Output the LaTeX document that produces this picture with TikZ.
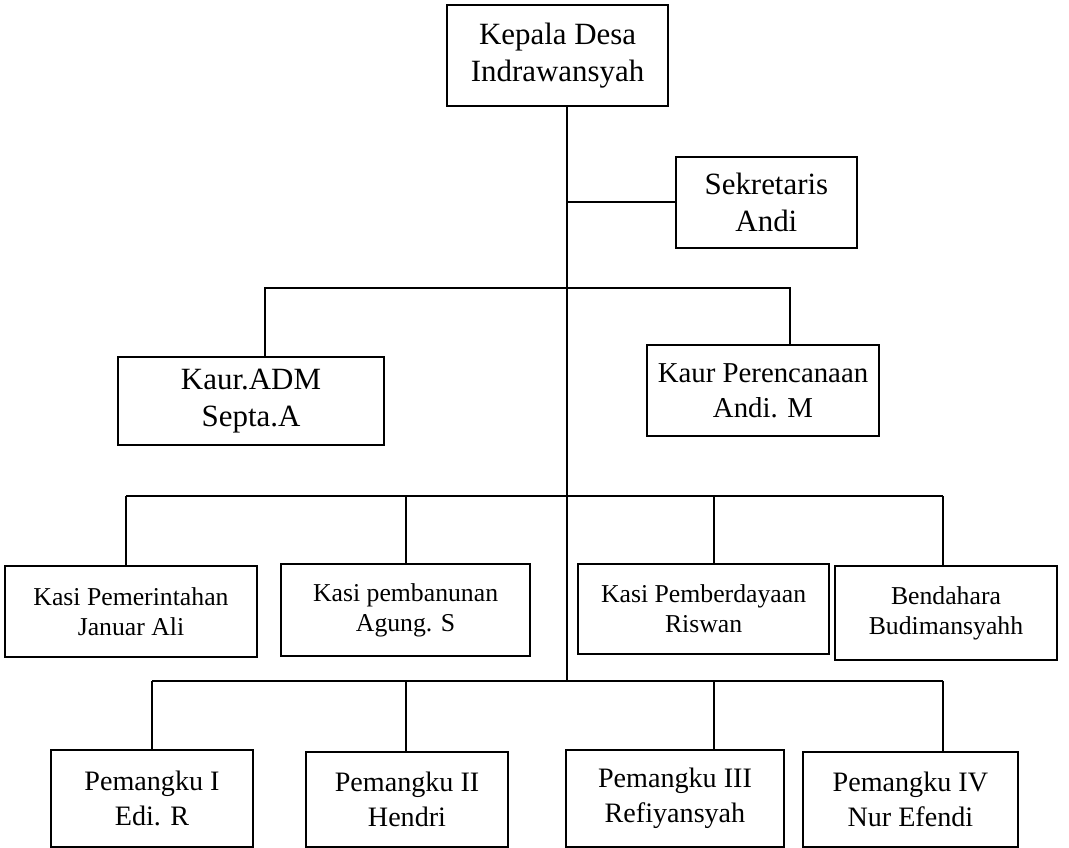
\documentclass[tikz,border=0pt]{standalone}
\usepackage{fontspec}
\setmainfont{Liberation Serif}
\begin{document}
\begin{tikzpicture}[
kotak/.style={draw=black, line width=1.4pt, inner sep=0pt, align=center},
garis/.style={draw=black, line width=1.4pt},
besar/.style={font=\fontsize{22}{26}\selectfont},
sedang/.style={font=\fontsize{20}{25}\selectfont},
kecil/.style={font=\fontsize{18.3}{21.5}\selectfont}
]
\useasboundingbox (0,0) rectangle (26.725,21.2);

\node[kotak,besar,minimum width=5.525cm,minimum height=2.525cm] (kades) at (13.94,19.81) {Kepala Desa\\Indrawansyah};
\node[kotak,besar,minimum width=4.525cm,minimum height=2.275cm] (sekdes) at (19.16,16.14) {Sekretaris\\Andi};

\node[kotak,besar,minimum width=6.65cm,minimum height=2.2cm] (kaurADM) at (6.275,11.175) {Kaur.ADM\\Septa.A};
\node[kotak,font=\fontsize{20.5}{25}\selectfont,minimum width=5.8cm,minimum height=2.275cm] (kaurPer) at (19.075,11.44) {Kaur Perencanaan\\Andi. M};

\node[kotak,kecil,minimum width=6.3cm,minimum height=2.275cm] (kasiPem) at (3.275,5.91) {Kasi Pemerintahan\\Januar Ali};
\node[kotak,kecil,minimum width=6.225cm,minimum height=2.3cm] (kasiPemb) at (10.14,5.95) {Kasi pembanunan\\Agung. S};
\node[kotak,kecil,minimum width=6.275cm,minimum height=2.25cm] (kasiPemd) at (17.59,5.975) {Kasi Pemberdayaan\\Riswan};
\node[kotak,kecil,minimum width=5.55cm,minimum height=2.35cm] (bendahara) at (23.65,5.875) {Bendahara\\Budimansyahh};

\node[kotak,sedang,minimum width=5.05cm,minimum height=2.425cm] (pem1) at (3.8,1.24) {Pemangku I\\Edi. R};
\node[kotak,sedang,minimum width=5.05cm,minimum height=2.375cm] (pem2) at (10.175,1.215) {Pemangku II\\Hendri};
\node[kotak,sedang,minimum width=5.45cm,minimum height=2.425cm] (pem3) at (16.875,1.24) {Pemangku III\\Refiyansyah};
\node[kotak,sedang,minimum width=5.375cm,minimum height=2.375cm] (pem4) at (22.76,1.215) {Pemangku IV\\Nur Efendi};

% garis utama
\coordinate (pusat) at (14.175,4.175);
\draw[garis] (kades.south -| pusat) -- (pusat);
\draw[garis] (sekdes.west -| pusat) -- (sekdes.west);

% kaur
\coordinate (kaurkiri) at (6.625,14);
\coordinate (kaurkanan) at (19.75,14);
\draw[garis] (kaurADM.north -| kaurkiri) -- (kaurkiri) -- (kaurkanan) -- (kaurkanan |- kaurPer.north);

% kasi
\coordinate (kasi1) at (3.15,8.8);
\coordinate (kasi2) at (10.15,8.8);
\coordinate (kasi3) at (17.85,8.8);
\coordinate (kasi4) at (23.575,8.8);
\draw[garis] (kasi1) -- (kasi4);
\draw[garis] (kasi1) -- (kasi1 |- kasiPem.north);
\draw[garis] (kasi2) -- (kasi2 |- kasiPemb.north);
\draw[garis] (kasi3) -- (kasi3 |- kasiPemd.north);
\draw[garis] (kasi4) -- (kasi4 |- bendahara.north);

% pemangku
\coordinate (dus1) at (3.8,4.175);
\coordinate (dus2) at (10.15,4.175);
\coordinate (dus3) at (17.85,4.175);
\coordinate (dus4) at (23.575,4.175);
\draw[garis] (dus1) -- (dus4);
\draw[garis] (dus1) -- (dus1 |- pem1.north);
\draw[garis] (dus2) -- (dus2 |- pem2.north);
\draw[garis] (dus3) -- (dus3 |- pem3.north);
\draw[garis] (dus4) -- (dus4 |- pem4.north);
\end{tikzpicture}
\end{document}
